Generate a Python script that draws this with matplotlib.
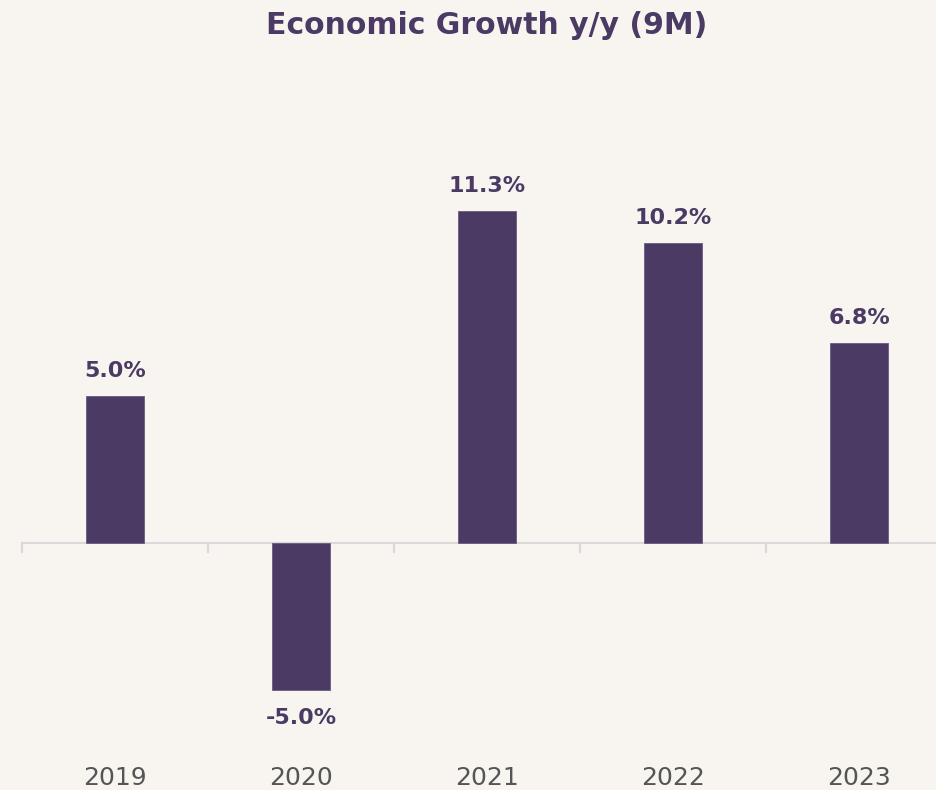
import matplotlib
matplotlib.use("Agg")
import matplotlib.pyplot as plt
from matplotlib.transforms import blended_transform_factory

# Economic growth y/y, first nine months
years = ["2019", "2020", "2021", "2022", "2023"]
growth = [5.0, -5.0, 11.3, 10.2, 6.8]
value_labels = ["5.0%", "-5.0%", "11.3%", "10.2%", "6.8%"]

bg = "#f8f4f0"
purple = "#4a3a64"

fig = plt.figure(figsize=(9.36, 7.9), dpi=100, facecolor=bg)
W, H = 936, 790
# axes placed in pixel terms: left 22, right 936, top 60, bottom 760
ax = fig.add_axes([22 / W, 1 - 760 / H, (936 - 22) / W, 700 / H])
ax.set_facecolor(bg)

x = list(range(len(years)))
ax.bar(x, growth, width=0.31, color=purple, edgecolor="#6a5b82", linewidth=0.6, zorder=2)

ax.set_xlim(-0.5, (936 - 22) / 186 - 0.5)
ax.set_ylim(-(760 - 543) / 29.4, (543 - 60) / 29.4)

for s in ["top", "right", "left"]:
    ax.spines[s].set_visible(False)
ax.spines["bottom"].set_position(("data", 0))
ax.spines["bottom"].set_color("#d9d9d9")
ax.spines["bottom"].set_linewidth(1.5)
ax.spines["bottom"].set_zorder(1)

ax.set_yticks([])
ax.set_xticks([i - 0.5 for i in range(len(years))])
ax.set_xticklabels([])
ax.tick_params(axis="x", length=7, width=1.5, color="#d9d9d9", direction="out")

trans = blended_transform_factory(ax.transData, fig.transFigure)
for i, yr in enumerate(years):
    ax.text(i, 1 - 778 / H, yr, transform=trans, ha="center", va="center",
            fontsize=18, color="#555555")

for i, (v, lab) in enumerate(zip(growth, value_labels)):
    off = 18 if v >= 0 else -20
    ax.annotate(lab, (i, v), xytext=(0, off), textcoords="offset points",
                ha="center", va="center", fontsize=16, fontweight="bold", color=purple)

# title is centred on the full category span (part of it runs off the right edge)
fig.text(487 / W, 1 - 26 / H, "Economic Growth y/y (9M)", ha="center", va="center",
         fontsize=21.5, fontweight="bold", color=purple)

fig.savefig("out.png", dpi=100, facecolor=bg)
